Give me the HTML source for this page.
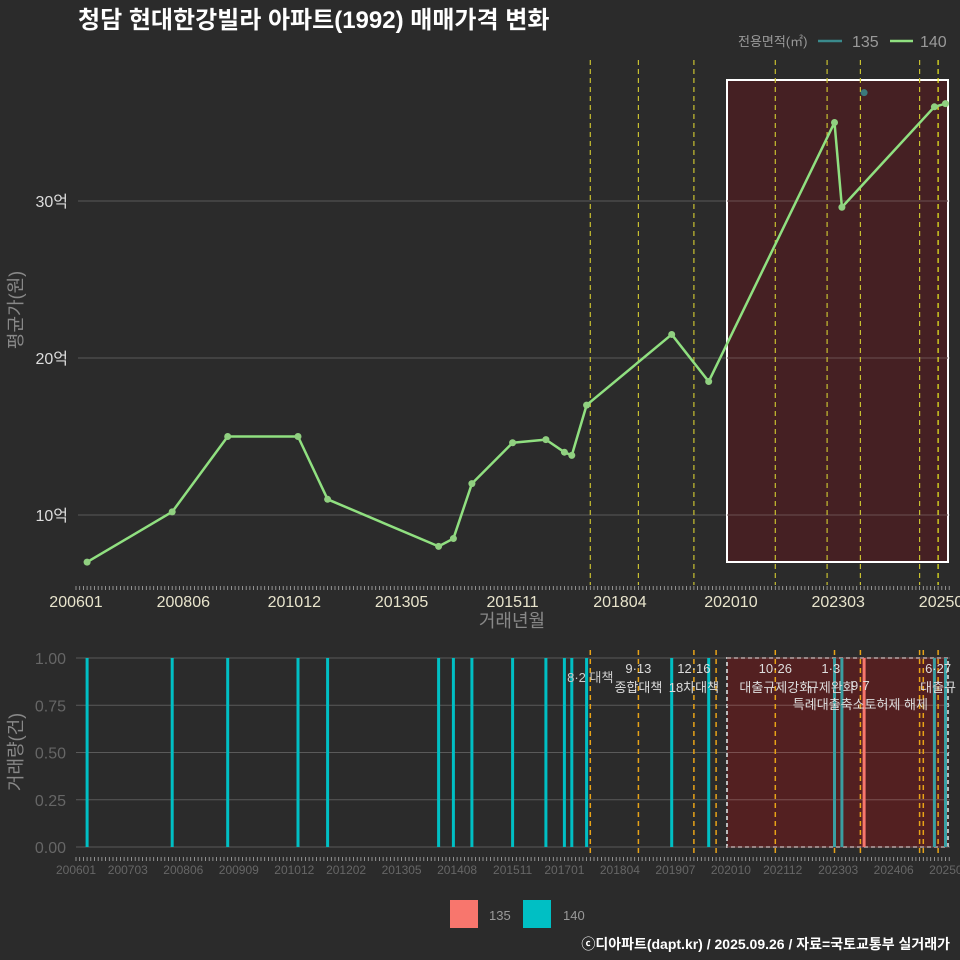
<!DOCTYPE html>
<html><head><meta charset="utf-8">
<style>
html,body{margin:0;padding:0;background:#2b2b2b;}
svg{display:block;font-family:"Liberation Sans","Noto Sans CJK KR",sans-serif;}
</style></head>
<body>
<svg id="c" width="960" height="960" viewBox="0 0 960 960" xmlns="http://www.w3.org/2000/svg">
<rect width="960" height="960" fill="#2b2b2b"/>
<text x="78" y="28" fill="#ffffff" font-size="24" font-weight="bold">청담 현대한강빌라 아파트(1992) 매매가격 변화</text>
<g id="legend-top">
<text x="738" y="46" fill="#999" font-size="13">전용면적(㎡)</text>
<line x1="818" y1="41" x2="842" y2="41" stroke="#3a8a8c" stroke-width="2.5"/>
<text x="852" y="47" fill="#999" font-size="16">135</text>
<line x1="890" y1="41" x2="913" y2="41" stroke="#90e080" stroke-width="2.5"/>
<text x="920" y="47" fill="#999" font-size="16">140</text>
</g>
<g id="gtop"></g>
<g id="gbot"></g>
<g>
<rect x="450" y="900" width="28" height="28" fill="#F8766D"/>
<text x="489" y="920" fill="#999" font-size="13">135</text>
<rect x="523" y="900" width="28" height="28" fill="#00BFC4"/>
<text x="563" y="920" fill="#999" font-size="13">140</text>
</g>
<text x="950" y="949" text-anchor="end" fill="#ffffff" font-size="14" font-weight="bold">ⓒ디아파트(dapt.kr) / 2025.09.26 / 자료=국토교통부 실거래가</text>
</svg>
<script>
const months140 = ['200604','200803','200906','201101','201109','201403','201407','201412','201511','201608','201701','201703','201707','201906','202004','202302','202304','202505','202508'];
const prices140 = [7.0,10.2,15.0,15.0,11.0,8.0,8.5,12.0,14.6,14.8,14.0,13.8,17.0,21.5,18.5,35.0,29.6,36.0,36.2];
const months135 = ['202310'];
const prices135 = [36.9];
const volMonths140 = ['200604','200803','200906','201101','201109','201403','201407','201412','201511','201608','201701','201703','201707','201906','202004','202302','202304','202505','202508'];
const volMonths135 = ['202310'];
const topTickLabels = ['200601','200806','201012','201305','201511','201804','202010','202303','202508'];
const botTickLabels = ['200601','200703','200806','200909','201012','201202','201305','201408','201511','201701','201804','201907','202010','202112','202303','202406','202509'];
const yTicksTop = [10,20,30];
const yTicksBot = [0,0.25,0.5,0.75,1.0];
const policyTop = ['201708','201809','201912','202110','202212','202309','202501','202506'];
const policyBot = ['201708','201809','201912','202006','202110','202302','202309','202501','202502','202506'];
const policyText = [['201708','8·2 대책','',0],['201809','9·13','종합대책',0],['201912','12·16','18차대책',0],['202110','10·26','대출규제강화',0],['202301','1·3','규제완화',0],['202309','9·7','특례대출축소토허제 해제',17],['202506','6·27','대출규',0]];

const NS='http://www.w3.org/2000/svg';
function mi(s){return (parseInt(s.slice(0,4))-2006)*12+parseInt(s.slice(4,6))-1;}
function X(s){return 76+mi(s)*3.7;}
function Yt(v){return 515-(v-10)*15.7;}
function Yb(v){return 847-v*189;}
function mk(p,tag,a){const e=document.createElementNS(NS,tag);for(const k in a)e.setAttribute(k,a[k]);p.appendChild(e);return e;}
const gTop=document.getElementById('gtop'), gBot=document.getElementById('gbot');

yTicksTop.forEach(v=>{
 const l=mk(gTop,'line',{x1:78,x2:950,y1:Yt(v),y2:Yt(v),stroke:'#5a5a5a','stroke-width':1});
 
 
 const t=mk(gTop,'text',{x:68,y:Yt(v)+6,'text-anchor':'end',fill:'#ddd','font-size':16});
 t.textContent=v+'억';
 
 
});
const sr=mk(gTop,'rect',{x:727,y:80,width:221,height:482,fill:'#4a1f22','fill-opacity':0.85,stroke:'#fff','stroke-width':2});


yTicksTop.forEach(v=>{mk(gTop,'line',{x1:727,x2:948,y1:Yt(v),y2:Yt(v),stroke:'#6a5050','stroke-width':1});});
policyTop.forEach((d,i)=>{
 const l=mk(gTop,'line',{x1:X(d),x2:X(d),y1:60,y2:585,stroke:i==policyTop.length-1?'#f0f020':'#c8c030','stroke-width':1.2,'stroke-dasharray':'5,4'});
 
 
});
for(let m=0;m<=236;m+=1){mk(gTop,'line',{x1:76+m*3.7,x2:76+m*3.7,y1:586,y2:590,stroke:'#aaa','stroke-width':0.8});
 mk(gBot,'line',{x1:76+m*3.7,x2:76+m*3.7,y1:857,y2:861,stroke:'#aaa','stroke-width':0.8});}
topTickLabels.forEach(s=>{
 const t=mk(gTop,'text',{x:X(s),y:607,'text-anchor':'middle',fill:'#e8e4cc','font-size':16});
 t.textContent=s;
 
 
});
let tt=mk(gTop,'text',{x:512,y:627,'text-anchor':'middle',fill:'#888','font-size':18});tt.textContent='거래년월';


tt=mk(gTop,'text',{x:0,y:0,'text-anchor':'middle',fill:'#888','font-size':18,transform:'translate(22,310) rotate(-90)'});tt.textContent='평균가(원)';


const pts=months140.map((m,i)=>X(m)+','+Yt(prices140[i])).join(' ');
const pl=mk(gTop,'polyline',{points:pts,fill:'none',stroke:'#90e080','stroke-width':2.5,'stroke-linejoin':'round'});


months140.forEach((m,i)=>{const c=mk(gTop,'circle',{cx:X(m),cy:Yt(prices140[i]),r:3.5,fill:'#90d080'});
 
 });
months135.forEach((m,i)=>{const c=mk(gTop,'circle',{cx:X(m),cy:Yt(prices135[i]),r:3.5,fill:'#3a7a7c'});
 
 });

yTicksBot.forEach(v=>{
 const l=mk(gBot,'line',{x1:76,x2:950,y1:Yb(v),y2:Yb(v),stroke:'#5a5a5a','stroke-width':1});
 
 
 const t=mk(gBot,'text',{x:66,y:Yb(v)+6,'text-anchor':'end',fill:'#666','font-size':16});
 t.textContent=v.toFixed(2);
 
 
});
const br=mk(gBot,'rect',{x:727,y:658,width:221,height:189,fill:'#5a1e20','fill-opacity':0.85,stroke:'#bbb','stroke-width':2,'stroke-dasharray':'4,3'});


yTicksBot.forEach(v=>{mk(gBot,'line',{x1:727,x2:948,y1:Yb(v),y2:Yb(v),stroke:'#7a5050','stroke-width':1});});
policyBot.forEach(d=>{
 const l=mk(gBot,'line',{x1:X(d),x2:X(d),y1:650,y2:857,stroke:'#e8a317','stroke-width':1.5,'stroke-dasharray':'5,4'});
 
 
});
volMonths140.forEach(m=>{
 const inR=X(m)>727;
 const r=mk(gBot,'rect',{x:X(m)-1.5,y:Yb(1),width:3,height:189,fill:inR?'#3a9ea2':'#00BFC4'});
 
 
});
volMonths135.forEach(m=>{
 const r=mk(gBot,'rect',{x:X(m)-1.5,y:Yb(1),width:3,height:189,fill:'#F8766D'});
 
 
});
policyText.forEach(p=>{
 const x=X(p[0]), dy=p[3];
 if(p[2]){
  let a=mk(gBot,'text',{x:x,y:673+dy,'text-anchor':'middle',fill:'#ddd','font-size':13});a.textContent=p[1];
  
  
  a=mk(gBot,'text',{x:x,y:692+dy,'text-anchor':'middle',fill:'#ddd','font-size':13});a.textContent=p[2];
  
  
 } else {
  const a=mk(gBot,'text',{x:x,y:682,'text-anchor':'middle',fill:'#ccc','font-size':13});a.textContent=p[1];
  
  
 }
});
botTickLabels.forEach(s=>{
 const t=mk(gBot,'text',{x:X(s),y:874,'text-anchor':'middle',fill:'#666','font-size':12});
 t.textContent=s;
 
 
});
tt=mk(gBot,'text',{x:0,y:0,'text-anchor':'middle',fill:'#888','font-size':18,transform:'translate(22,752) rotate(-90)'});tt.textContent='거래량(건)';


</script>
</body></html>
